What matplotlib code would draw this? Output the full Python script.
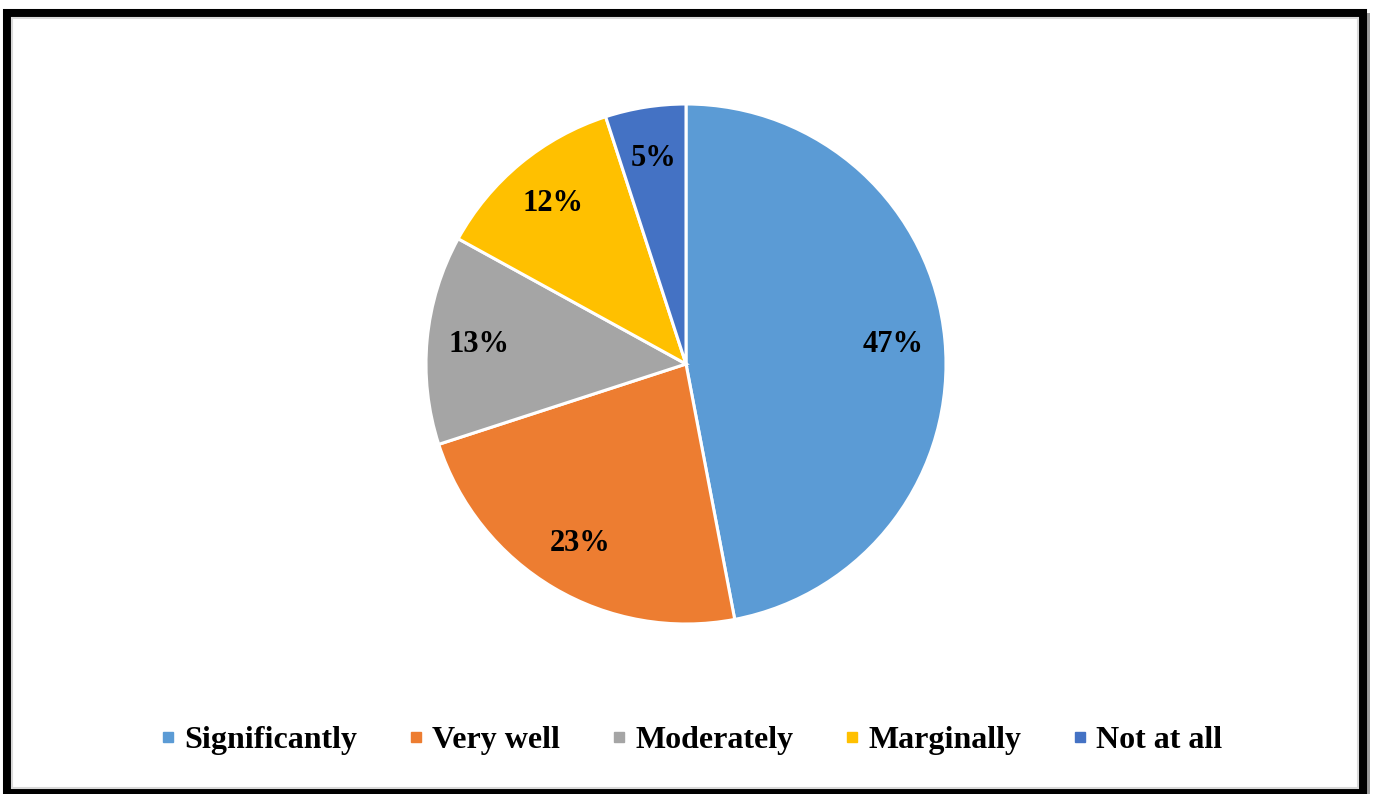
import matplotlib.pyplot as plt
from matplotlib.patches import Rectangle
from matplotlib.lines import Line2D

categories = ['Significantly', 'Very well', 'Moderately', 'Marginally', 'Not at all']
values = [47, 23, 13, 12, 5]
colors = ['#5B9BD5', '#ED7D31', '#A5A5A5', '#FFC000', '#4472C4']

W, H = 1373, 794
plt.rcParams['font.family'] = ['Liberation Serif', 'DejaVu Serif']
plt.rcParams['font.weight'] = 'bold'

fig = plt.figure(figsize=(W / 100, H / 100), dpi=100)


def px_rect(x0, y0, x1, y1, **kw):
    # rectangle given in image pixels (y from top)
    r = Rectangle((x0 / W, 1 - y1 / H), (x1 - x0) / W, (y1 - y0) / H,
                  transform=fig.transFigure, fill=False, **kw)
    fig.add_artist(r)


# frame: shadow, black border, thin inner gray line
px_rect(10, 16, 1367, 797, edgecolor='#9a9a9a', linewidth=4.3)
px_rect(7, 13, 1363, 793, edgecolor='black', linewidth=5.8)
px_rect(12, 18, 1358, 788, edgecolor='#d9d9d9', linewidth=1.5)

# pie axes, centred at (686, 364) px, radius 260 px
cx, cy, r = 686, 364, 260
ax = fig.add_axes([(cx - r) / W, 1 - (cy + r) / H, 2 * r / W, 2 * r / H])
wedges, texts, autotexts = ax.pie(
    values, colors=colors, startangle=90, counterclock=False,
    autopct='%d%%', pctdistance=0.8, radius=1,
    wedgeprops=dict(edgecolor='white', linewidth=2.2),
    textprops=dict(fontsize=22, fontweight='bold', color='black'))
ax.set_xlim(-1, 1)
ax.set_ylim(-1, 1)
ax.set_aspect('equal')
ax.axis('off')

handles = [Line2D([], [], marker='s', linestyle='none', markersize=7.5,
                  markerfacecolor=c, markeredgecolor=c) for c in colors]
fig.legend(handles, categories, loc='center', bbox_to_anchor=(689 / W, 1 - 740 / H),
           ncol=5, frameon=False, handletextpad=0.1,
           columnspacing=1.45, handlelength=0.8,
           prop=dict(family='Liberation Serif', weight='bold', size=23))

fig.savefig('out.png', dpi=100)
